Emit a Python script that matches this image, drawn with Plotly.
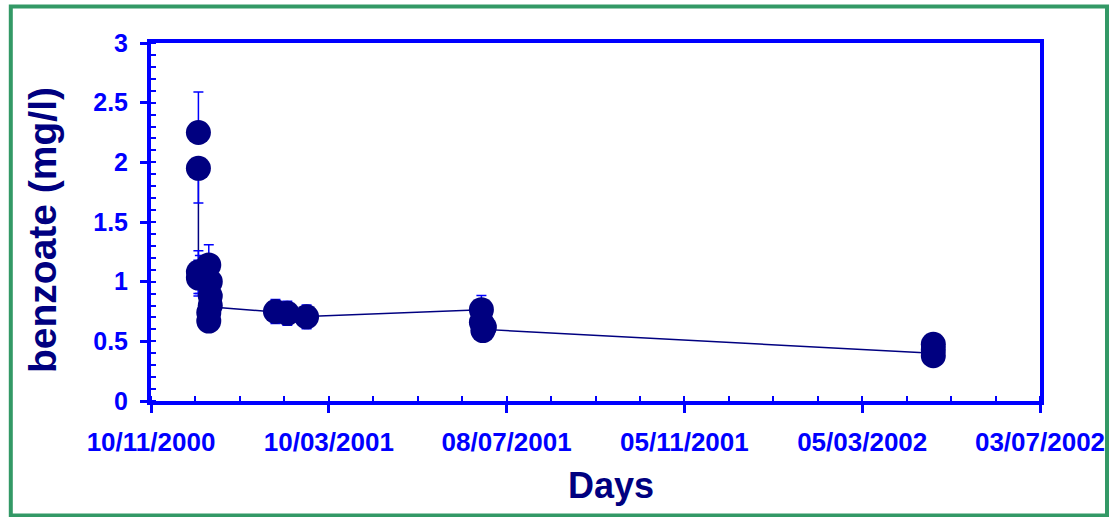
import plotly.graph_objects as go
from datetime import date, timedelta

# ---- data ----
pt_dates = [
    "2000-12-12", "2000-12-12", "2000-12-12", "2000-12-12", "2000-12-13",
    "2000-12-19", "2000-12-20", "2000-12-20", "2000-12-20", "2000-12-19", "2000-12-19",
    "2001-02-02", "2001-02-10", "2001-02-23",
    "2001-06-21", "2001-06-21", "2001-06-23", "2001-06-22",
    "2002-04-22", "2002-04-22", "2002-04-22",
]
pt_values = [
    2.25, 1.95, 1.08, 1.03, 1.06,
    1.14, 1.00, 0.88, 0.80, 0.74, 0.67,
    0.75, 0.735, 0.705,
    0.765, 0.66, 0.62, 0.59,
    0.475, 0.43, 0.38,
]
err_plus = [
    0.34, 0.0, 0.18, 0.15, 0.16,
    0.17, 0.12, 0.10, 0.08, 0.07, 0.06,
    0.10, 0.10, 0.10,
    0.12, 0.05, 0.04, 0.04,
    0.02, 0.02, 0.02,
]
err_minus = [
    0.0, 0.29, 0.18, 0.15, 0.16,
    0.17, 0.12, 0.10, 0.08, 0.07, 0.06,
    0.10, 0.10, 0.10,
    0.12, 0.05, 0.04, 0.04,
    0.02, 0.02, 0.02,
]

line_dates = ["2000-12-12", "2000-12-12", "2000-12-19", "2001-02-02",
              "2001-02-23", "2001-06-21", "2001-06-23", "2002-04-22"]
line_values = [1.95, 1.08, 0.79, 0.745, 0.708, 0.765, 0.60, 0.40]

x_start = date(2000, 11, 10)
x_end = date(2002, 7, 3)
major_step_days = 120
minor_step_days = 30
y_ticks = [0, 0.5, 1, 1.5, 2, 2.5, 3]

x_major = [x_start + timedelta(days=major_step_days * i) for i in range(6)]
x_major_text = [d.strftime("%d/%m/%Y") for d in x_major]
x_minor = [x_start + timedelta(days=minor_step_days * i) for i in range(21)]

BLUE = "#0000FF"
NAVY = "#000080"
FONT = "Liberation Sans, Arial, sans-serif"

fig = go.Figure()
fig.add_trace(go.Scatter(
    x=line_dates, y=line_values, mode="lines",
    line=dict(color=NAVY, width=1.5), hoverinfo="skip", showlegend=False,
))
fig.add_trace(go.Scatter(
    x=pt_dates, y=pt_values, mode="markers",
    marker=dict(color=NAVY, size=25, line=dict(width=0)),
    error_y=dict(type="data", symmetric=False, array=err_plus, arrayminus=err_minus,
                 color=BLUE, thickness=1.5, width=5),
    showlegend=False,
))

L, R, T, B = 151, 1040, 43, 401
W, H = 1109, 517
pw, ph = R - L, B - T

def px(x):
    return (x - L) / pw

def py(y):
    return (B - y) / ph

fig.update_layout(
    width=W, height=H,
    margin=dict(l=L, r=W - R, t=T, b=H - B, pad=0, autoexpand=False),
    paper_bgcolor="white", plot_bgcolor="white",
    font=dict(family=FONT),
    xaxis=dict(
        type="date", range=[x_start.isoformat(), x_end.isoformat()], automargin=False,
        tickmode="array", tickvals=[d.isoformat() for d in x_major], ticktext=x_major_text,
        ticks="outside", ticklen=8, tickwidth=3, tickcolor=BLUE,
        tickfont=dict(family=FONT, size=26, color=BLUE, weight="bold"),
        ticklabelstandoff=7,
        showline=True, linecolor=BLUE, linewidth=4, mirror=True,
        showgrid=False, zeroline=False,
        minor=dict(tickmode="array", tickvals=[d.isoformat() for d in x_minor],
                   ticks="inside", ticklen=5, tickwidth=2, tickcolor=BLUE, showgrid=False),
    ),
    yaxis=dict(
        range=[0, 3], tickmode="array", tickvals=y_ticks, automargin=False,
        ticks="outside", ticklen=7, tickwidth=3, tickcolor=BLUE,
        tickfont=dict(family=FONT, size=25, color=BLUE, weight="bold"),
        ticklabelstandoff=7,
        showline=True, linecolor=BLUE, linewidth=4, mirror=True,
        showgrid=False, zeroline=False,
        minor=dict(dtick=0.1, ticks="inside", ticklen=5, tickwidth=2, tickcolor=BLUE,
                   showgrid=False),
    ),
    shapes=[dict(type="rect", xref="paper", yref="paper",
                 x0=px(10.8), x1=px(1107), y0=py(515.5), y1=py(6.5),
                 line=dict(color="#339966", width=4), fillcolor="rgba(0,0,0,0)", layer="below")],
    annotations=[
        dict(text="Days", xref="paper", yref="paper", x=px(611), y=py(485),
             xanchor="center", yanchor="middle", showarrow=False,
             font=dict(family=FONT, size=36, color=NAVY, weight="bold")),
        dict(text="benzoate (mg/l)", xref="paper", yref="paper", x=px(42), y=py(230),
             xanchor="center", yanchor="middle", showarrow=False, textangle=-90,
             font=dict(family=FONT, size=39, color=NAVY, weight="bold")),
    ],
)

fig.write_html("out.html")
